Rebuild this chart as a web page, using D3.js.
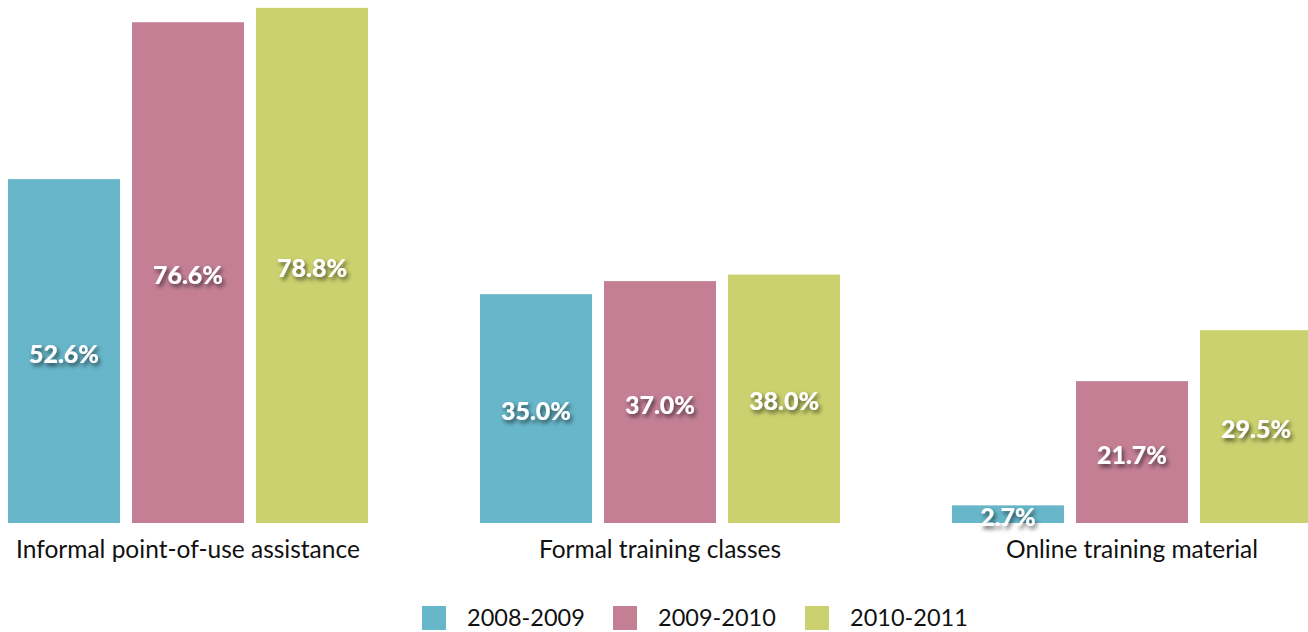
<!DOCTYPE html>
<html>
<head>
<meta charset="utf-8">
<script src="https://cdn.jsdelivr.net/npm/d3@7"></script>
<style>
  body { margin: 0; background: #fff; }
  text { font-family: Lato, "Open Sans", sans-serif; }
</style>
</head>
<body>
<div id="chart"></div>
<script>
var categories = ["Informal point-of-use assistance", "Formal training classes", "Online training material"];
var years = ["2008-2009", "2009-2010", "2010-2011"];
var values2008 = [52.6, 35.0, 2.7];
var values2009 = [76.6, 37.0, 21.7];
var values2010 = [78.8, 38.0, 29.5];
var colors = ["#67b6c9", "#c47f95", "#cbd16e"];

var series = [values2008, values2009, values2010];

var width = 1308, height = 632;

var svg = d3.select("#chart").append("svg")
  .attr("width", width)
  .attr("height", height);

var defs = svg.append("defs");
var f = defs.append("filter").attr("id", "shadow")
  .attr("x", "-20%").attr("y", "-30%").attr("width", "150%").attr("height", "180%");
f.append("feDropShadow")
  .attr("dx", 2).attr("dy", 3).attr("stdDeviation", 2)
  .attr("flood-color", "#000").attr("flood-opacity", 0.6);

// 3 groups of 360px with 112px between them, last group runs past the edge
var x0 = d3.scaleBand()
  .domain(categories)
  .range([8, 1312])
  .paddingInner(112 / 472);

var x1 = d3.scaleBand()
  .domain(years)
  .range([0, x0.bandwidth()])
  .paddingInner(0.097);

var y = d3.scaleLinear()
  .domain([0, 80])
  .range([523, 0]);

function rows(d, i) {
  return years.map(function(yr, j) { return { year: yr, value: series[j][i], j: j }; });
}

var g = svg.selectAll(".group")
  .data(categories)
  .enter().append("g")
  .attr("class", "group")
  .attr("transform", function(d) { return "translate(" + x0(d) + ",0)"; });

g.selectAll("rect")
  .data(rows)
  .enter().append("rect")
  .attr("x", function(d) { return x1(d.year); })
  .attr("y", function(d) { return y(d.value); })
  .attr("width", x1.bandwidth())
  .attr("height", function(d) { return y(0) - y(d.value); })
  .attr("fill", function(d) { return colors[d.j]; });

g.selectAll(".val")
  .data(rows)
  .enter().append("text")
  .attr("class", "val")
  .attr("x", function(d) { return x1(d.year) + x1.bandwidth() / 2; })
  .attr("y", function(d) { return (y(d.value) + y(0)) / 2; })
  .attr("dy", "0.46em")
  .attr("text-anchor", "middle")
  .attr("fill", "#fff")
  .attr("font-weight", 900)
  .attr("font-size", 25)
  .attr("filter", "url(#shadow)")
  .text(function(d) { return d.value.toFixed(1) + "%"; });

g.append("text")
  .attr("x", x0.bandwidth() / 2)
  .attr("y", 558)
  .attr("text-anchor", "middle")
  .attr("font-size", 24.5)
  .attr("fill", "#111")
  .text(function(d) { return d; });

// legend
var legendX = [422, 613, 805];
var lg = svg.selectAll(".legend")
  .data(years)
  .enter().append("g")
  .attr("class", "legend")
  .attr("transform", function(d, i) { return "translate(" + legendX[i] + ",606)"; });

lg.append("rect")
  .attr("width", 24)
  .attr("height", 24)
  .attr("fill", function(d, i) { return colors[i]; });

lg.append("text")
  .attr("x", 45)
  .attr("y", 12)
  .attr("dy", "0.36em")
  .attr("font-size", 23.5)
  .attr("fill", "#111")
  .text(function(d) { return d; });
</script>
</body>
</html>
